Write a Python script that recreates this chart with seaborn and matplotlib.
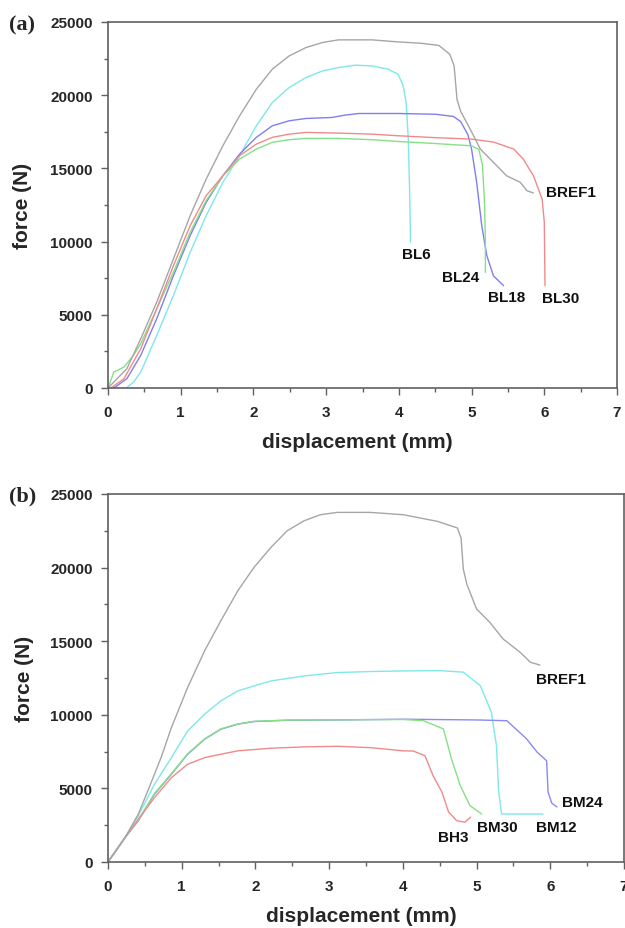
import matplotlib
matplotlib.use("Agg")
import matplotlib.pyplot as plt
import numpy as np
import pandas as pd
import seaborn as sns
from matplotlib.ticker import MultipleLocator


# panel (a): displacement (mm) / force (N)
a_bref1_x = [0.0, 0.26, 0.45, 0.67, 0.9, 1.13, 1.35, 1.58, 1.81, 2.04, 2.26, 2.49, 2.72, 2.95, 3.17, 3.63, 3.99,
             4.3, 4.55, 4.7, 4.76, 4.8, 4.85, 5.0, 5.12, 5.3, 5.48, 5.67, 5.76, 5.85]
a_bref1_y = [0, 1320, 3360, 5860, 8820, 11770, 14270, 16550, 18590, 20410, 21780, 22680, 23250, 23600, 23780, 23780,
             23640, 23550, 23400, 22800, 22000, 19700, 18900, 17500, 16320, 15420, 14500, 14050, 13480, 13320]

a_bl6_x = [0.25, 0.35, 0.45, 0.67, 0.9, 1.13, 1.35, 1.58, 1.81, 2.04, 2.26, 2.49, 2.72, 2.95, 3.17, 3.40, 3.63,
           3.85, 3.99, 4.06, 4.1, 4.13, 4.15, 4.16]
a_bl6_y = [0, 400, 1090, 3590, 6320, 9270, 11770, 14050, 15870, 17910, 19500, 20520, 21200, 21660, 21890, 22050,
           22000, 21780, 21430, 20640, 19500, 17000, 13000, 9970]

a_bl18_x = [0.08, 0.26, 0.45, 0.67, 0.9, 1.13, 1.35, 1.58, 1.81, 2.04, 2.26, 2.49, 2.72, 3.08, 3.26, 3.45, 3.99,
            4.5, 4.75, 4.85, 4.95, 5.0, 5.07, 5.14, 5.21, 5.3, 5.44]
a_bl18_y = [0, 640, 2230, 4730, 7680, 10410, 12680, 14500, 15980, 17120, 17910, 18250, 18410, 18480, 18640, 18750,
            18750, 18700, 18550, 18200, 17300, 16320, 14050, 11090, 9040, 7670, 6990]

a_bl24_x = [0.0, 0.08, 0.22, 0.35, 0.45, 0.67, 0.9, 1.13, 1.35, 1.58, 1.81, 2.04, 2.26, 2.49, 2.72, 3.17, 3.63,
            3.99, 4.5, 5.0, 5.1, 5.15, 5.18, 5.19, 5.19]
a_bl24_y = [0, 1090, 1430, 2230, 3020, 5410, 7910, 10640, 12800, 14500, 15640, 16320, 16780, 16960, 17050, 17050,
            16960, 16840, 16700, 16540, 16300, 15200, 12500, 10000, 7900]

a_bl30_x = [0.04, 0.22, 0.45, 0.67, 0.9, 1.13, 1.35, 1.58, 1.81, 2.04, 2.26, 2.49, 2.72, 3.17, 3.63, 3.99, 4.5,
            5.0, 5.3, 5.58, 5.71, 5.85, 5.97, 6.0, 6.01]
a_bl30_y = [0, 640, 2680, 5410, 8360, 11090, 13140, 14500, 15870, 16660, 17120, 17340, 17460, 17410, 17340, 17230,
            17100, 17000, 16800, 16320, 15640, 14500, 12910, 11340, 6990]

# panel (b)
b_bref1_x = [0.0, 0.23, 0.41, 0.54, 0.72, 0.86, 1.08, 1.31, 1.53, 1.76, 1.98, 2.21, 2.43, 2.66, 2.88, 3.11, 3.56,
             4.01, 4.47, 4.74, 4.79, 4.82, 4.87, 5.0, 5.18, 5.36, 5.59, 5.73, 5.86]
b_bref1_y = [0, 1650, 3240, 4830, 7090, 9130, 11850, 14340, 16380, 18420, 20010, 21370, 22500, 23180, 23590, 23750,
             23750, 23590, 23140, 22690, 22000, 19900, 18840, 17190, 16280, 15150, 14250, 13570, 13380]

b_bm12_x = [0.0, 0.23, 0.41, 0.63, 0.86, 1.08, 1.31, 1.53, 1.76, 1.98, 2.21, 2.66, 3.11, 3.56, 4.01, 4.5, 4.82,
            5.05, 5.2, 5.27, 5.3, 5.34, 5.9]
b_bm12_y = [0, 1650, 3130, 5280, 7090, 8900, 10040, 10940, 11620, 11960, 12300, 12640, 12870, 12940, 12980, 13000,
            12900, 11980, 10190, 7900, 4750, 3260, 3260]

b_bm24_x = [0.0, 0.23, 0.41, 0.63, 0.86, 1.08, 1.31, 1.53, 1.76, 1.98, 2.43, 3.11, 4.01, 5.0, 5.41, 5.68, 5.82,
            5.95, 5.97, 6.02, 6.09]
b_bm24_y = [0, 1650, 2790, 4600, 5960, 7320, 8340, 9020, 9360, 9540, 9630, 9650, 9700, 9650, 9600, 8360, 7470,
            6880, 4750, 4000, 3740]

b_bm30_x = [0.0, 0.23, 0.41, 0.63, 0.86, 1.08, 1.31, 1.53, 1.76, 1.98, 2.43, 3.11, 4.01, 4.28, 4.55, 4.66, 4.78,
            4.91, 5.07]
b_bm30_y = [0, 1650, 2850, 4650, 6000, 7350, 8360, 9040, 9380, 9560, 9640, 9660, 9680, 9600, 9040, 7000, 5180,
            3830, 3260]

b_bh3_x = [0.0, 0.23, 0.41, 0.63, 0.86, 1.08, 1.31, 1.53, 1.76, 2.21, 2.66, 3.11, 3.56, 4.01, 4.14, 4.30, 4.41,
           4.53, 4.62, 4.73, 4.84, 4.92]
b_bh3_y = [0, 1650, 2900, 4370, 5730, 6640, 7090, 7320, 7550, 7730, 7820, 7860, 7770, 7550, 7540, 7220, 5860,
           4750, 3400, 2810, 2700, 3050]

a_names = ["BREF1", "BL6", "BL18", "BL24", "BL30"]
b_names = ["BREF1", "BM12", "BM24", "BM30", "BH3"]

# label anchors (left edge, vertical centre)
a_label_x = [6.02, 4.04, 5.23, 4.60, 5.97]
a_label_y = [13390, 9150, 6240, 7600, 6150]
b_label_x = [5.81, 5.81, 6.16, 5.01, 4.47]
b_label_y = [12430, 2350, 4060, 2350, 1680]

x_ticks = [0, 1, 2, 3, 4, 5, 6, 7]
y_ticks = [0, 5000, 10000, 15000, 20000, 25000]

colors_a = ["#a6a6a6", "#7ee8ea", "#7f7ff0", "#86e086", "#f08a8a"]
colors_b = ["#a6a6a6", "#7ee8ea", "#8a8af2", "#86e086", "#f08a8a"]

sns.set_theme(style="white")
plt.rcParams["font.family"] = ["Liberation Sans", "DejaVu Sans"]

fig = plt.figure(figsize=(6.25, 9.29), dpi=100)
ax_a = fig.add_axes([108 / 625, 1 - 389 / 929, 509 / 625, 366 / 929])
ax_b = fig.add_axes([108 / 625, 1 - 863 / 929, 516 / 625, 368 / 929])

curves_a = [(a_bref1_x, a_bref1_y), (a_bl6_x, a_bl6_y), (a_bl18_x, a_bl18_y),
            (a_bl24_x, a_bl24_y), (a_bl30_x, a_bl30_y)]
curves_b = [(b_bref1_x, b_bref1_y), (b_bm12_x, b_bm12_y), (b_bm24_x, b_bm24_y),
            (b_bm30_x, b_bm30_y), (b_bh3_x, b_bh3_y)]


def draw_panel(ax, curves, names, colors, lab_x, lab_y, tag, tag_y, ylab_x):
    # draw reference last so it stays on top like the original
    order = list(range(1, len(curves))) + [0]
    for i in order:
        xs, ys = curves[i]
        df = pd.DataFrame({"disp": xs, "force": ys})
        sns.lineplot(data=df, x="disp", y="force", sort=False, estimator=None,
                     color=colors[i], linewidth=1.0, ax=ax)
    for name, lx, ly in zip(names, lab_x, lab_y):
        ax.text(lx, ly, name, ha="left", va="center", fontsize=11, fontweight="bold", color="#111111")

    ax.set_xlim(0, 7)
    ax.set_ylim(0, 25000)
    ax.set_xticks(x_ticks)
    ax.set_yticks(y_ticks)
    ax.xaxis.set_minor_locator(MultipleLocator(0.5))
    ax.yaxis.set_minor_locator(MultipleLocator(2500))
    ax.tick_params(which="major", direction="out", length=5, width=1.0, color="#606060",
                   labelsize=11, bottom=True, left=True)
    ax.tick_params(axis="x", which="major", pad=7)
    ax.tick_params(axis="y", which="major", pad=6)
    ax.tick_params(which="minor", direction="out", length=3, width=1.0, color="#606060",
                   bottom=True, left=True)
    for lbl in ax.get_xticklabels() + ax.get_yticklabels():
        lbl.set_fontweight("bold")
    for sp in ax.spines.values():
        sp.set_color("#606060")
        sp.set_linewidth(1.2)
        sp.set_visible(True)

    ax.set_xlabel("displacement (mm)", fontsize=15, fontweight="bold")
    ax.set_ylabel("force (N)", fontsize=15, fontweight="bold")
    ax.xaxis.set_label_coords(0.49, -0.12)
    ax.yaxis.set_label_coords(ylab_x, 0.5)

    fig.text(9 / 625, 1 - tag_y / 929, tag, ha="left", va="center", fontsize=16,
             fontweight="bold", family=["Liberation Serif", "DejaVu Serif"])


draw_panel(ax_a, curves_a, a_names, colors_a, a_label_x, a_label_y, "(a)", 25, -0.15)
draw_panel(ax_b, curves_b, b_names, colors_b, b_label_x, b_label_y, "(b)", 496, -0.143)

fig.savefig("out.png", dpi=100)
